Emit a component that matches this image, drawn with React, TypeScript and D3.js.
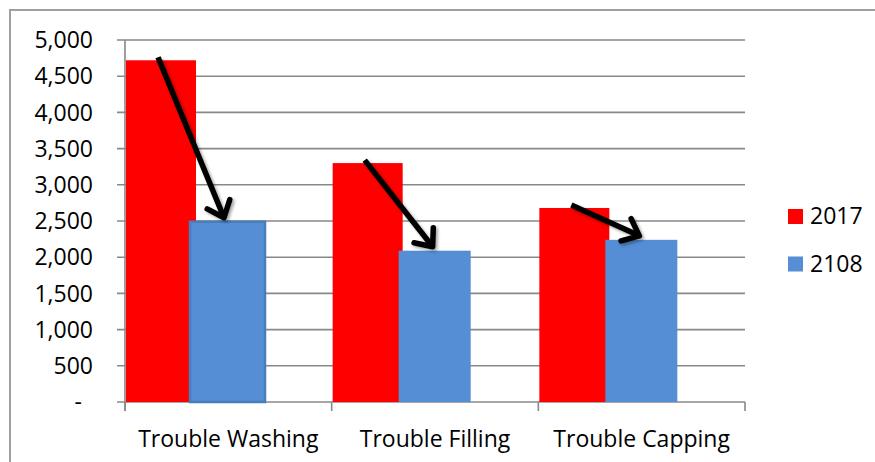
import React from "react";
import * as d3 from "d3";

const categories = ["Trouble Washing", "Trouble Filling", "Trouble Capping"];
const seriesNames = ["2017", "2108"];
const values2017 = [4720, 3300, 2680];
const values2108 = [2490, 2090, 2240];
const yTicks = [0, 500, 1000, 1500, 2000, 2500, 3000, 3500, 4000, 4500, 5000];

const W = 875;
const H = 462;
const plot = { left: 125, right: 745, top: 40, bottom: 402 };
const FONT = "'Open Sans', 'DejaVu Sans', sans-serif";
const RED = "#ff0000";
const BLUE = "#558ed5";
const GRID = "#888888";
const FS = 23;

export default function App() {
  const x = d3
    .scaleBand<string>()
    .domain(categories)
    .range([plot.left, plot.right])
    .paddingInner(0)
    .paddingOuter(0);
  const y = d3.scaleLinear().domain([0, 5000]).range([plot.bottom, plot.top]);
  const fmt = d3.format(",");

  const redW = 70;
  const blueW = 72;
  const redX = (c: string) => (x(c) as number) + 1;
  const blueX = (c: string, i: number) => (x(c) as number) + (i === 0 ? 65 : 67);

  // arrow from the top of each 2017 bar to the top of the matching 2108 bar
  const arrows = categories.map((c, i) => {
    const x1 = redX(c) + redW / 2 - 3;
    const y1 = y(values2017[i]) - 3;
    const x2 = blueX(c, i) + blueW / 2 - 2;
    const y2 = y(values2108[i]) - 4;
    const ang = Math.atan2(y2 - y1, x2 - x1);
    const len = 19;
    const spread = (40 * Math.PI) / 180;
    const a1 = [x2 - len * Math.cos(ang - spread), y2 - len * Math.sin(ang - spread)];
    const a2 = [x2 - len * Math.cos(ang + spread), y2 - len * Math.sin(ang + spread)];
    return { x1, y1, x2, y2, a1, a2 };
  });

  const bounds = [...categories.map((c) => x(c) as number), plot.right];

  return (
    <svg
      width={W}
      height={H}
      style={{ position: "fixed", left: 0, top: 0, display: "block", background: "#fff" }}
      fontFamily={FONT}
    >
      <defs>
        <filter id="arrowShadow" x="-30%" y="-30%" width="160%" height="160%">
          <feDropShadow dx="2" dy="2" stdDeviation="1.6" floodColor="#000" floodOpacity="0.35" />
        </filter>
      </defs>

      {/* outer chart border */}
      <rect x={10} y={10} width={W + 20} height={H + 20} fill="#fff" stroke="#a0a0a0" strokeWidth={2} />

      {/* horizontal gridlines and y tick marks */}
      {yTicks.map((t) => (
        <line
          key={"g" + t}
          x1={plot.left - 8}
          x2={plot.right}
          y1={y(t)}
          y2={y(t)}
          stroke={GRID}
          strokeWidth={1.6}
        />
      ))}
      {/* y axis line */}
      <line x1={plot.left} x2={plot.left} y1={plot.top} y2={plot.bottom + 9} stroke={GRID} strokeWidth={1.6} />
      {/* category boundary ticks */}
      {bounds.map((b, i) => (
        <line key={"t" + i} x1={b} x2={b} y1={plot.bottom} y2={plot.bottom + 9} stroke={GRID} strokeWidth={1.6} />
      ))}

      {/* y tick labels */}
      {yTicks.map((t) => (
        <text
          key={"l" + t}
          x={t === 0 ? 82 : 93}
          y={y(t)}
          dy="0.36em"
          textAnchor="end"
          fontSize={FS}
          fill="#000"
        >
          {t === 0 ? "-" : fmt(t)}
        </text>
      ))}

      {/* bars */}
      {categories.map((c, i) => (
        <rect
          key={"r" + c}
          x={redX(c)}
          y={y(values2017[i])}
          width={redW}
          height={y(0) - y(values2017[i])}
          fill={RED}
        />
      ))}
      {categories.map((c, i) => (
        <rect
          key={"b" + c}
          x={blueX(c, i)}
          y={y(values2108[i])}
          width={i === 0 ? 75 : blueW}
          height={y(0) - y(values2108[i])}
          fill={BLUE}
          stroke={i === 0 ? "#4a7ebb" : "none"}
          strokeWidth={i === 0 ? 2.5 : 0}
        />
      ))}

      {/* arrows */}
      {arrows.map((a, i) => (
        <g key={"a" + i} filter="url(#arrowShadow)" stroke="#000" strokeWidth={5.5} fill="none" strokeLinecap="round" strokeLinejoin="round">
          <line x1={a.x1} y1={a.y1} x2={a.x2} y2={a.y2} strokeLinecap="butt" />
          <path d={`M${a.a1[0]},${a.a1[1]}L${a.x2},${a.y2}L${a.a2[0]},${a.a2[1]}`} />
        </g>
      ))}

      {/* category labels */}
      {categories.map((c) => (
        <text
          key={"c" + c}
          x={(x(c) as number) + x.bandwidth() / 2}
          y={447}
          textAnchor="middle"
          fontSize={FS}
          fill="#000"
        >
          {c}
        </text>
      ))}

      {/* legend */}
      {seriesNames.map((s, i) => (
        <g key={"lg" + s} transform={`translate(788, ${209 + i * 47.5})`}>
          <rect x={0} y={0} width={15} height={15} fill={i === 0 ? RED : BLUE} />
          <text x={22} y={15} fontSize={FS} fill="#000">
            {s}
          </text>
        </g>
      ))}
    </svg>
  );
}
